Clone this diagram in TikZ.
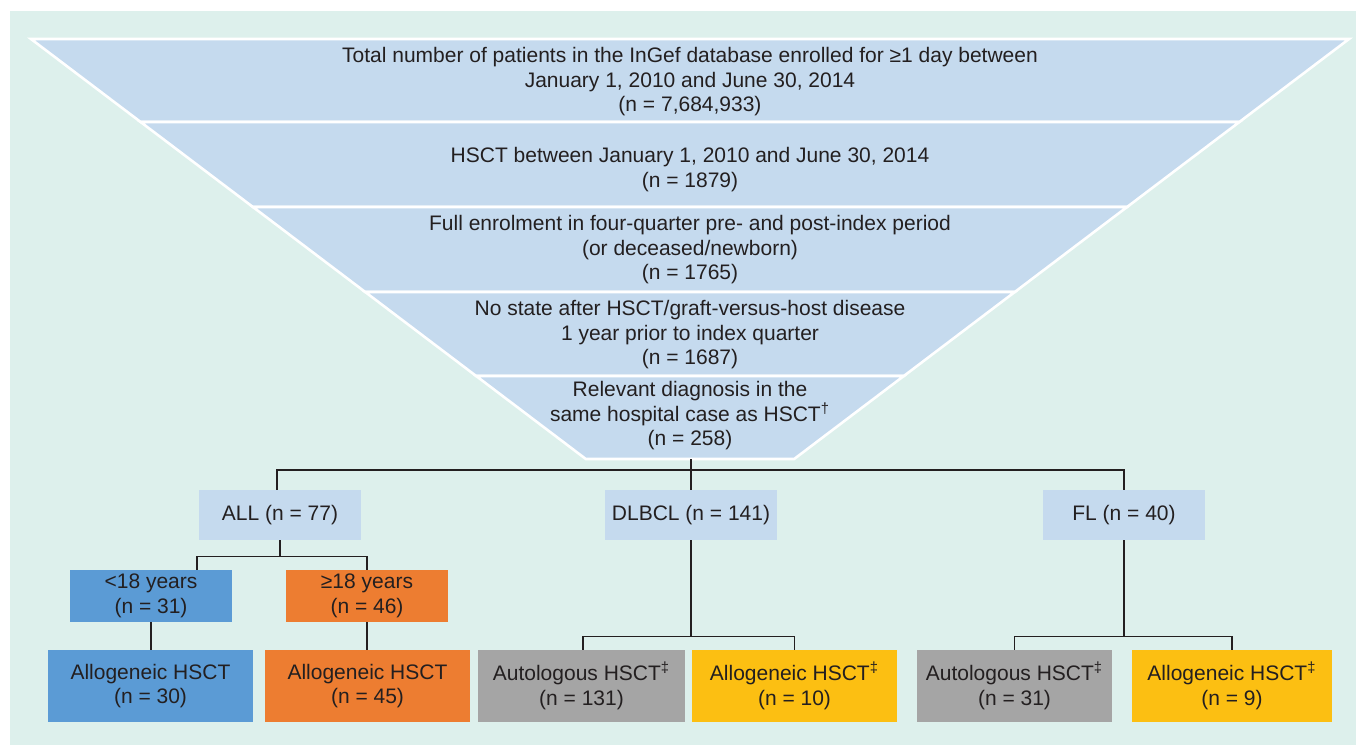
\documentclass[tikz,border=0pt]{standalone}
\usepackage{fontspec}
\setmainfont{Liberation Sans}
\definecolor{bgteal}{HTML}{DDF0EC}
\definecolor{funnelblue}{HTML}{C5DAEE}
\definecolor{boxblue}{HTML}{5B9BD5}
\definecolor{boxorange}{HTML}{ED7D31}
\definecolor{boxgray}{HTML}{A5A5A5}
\definecolor{boxyellow}{HTML}{FCBF12}
\definecolor{inkdark}{HTML}{231F20}
\begin{document}
\begin{tikzpicture}[x=0.5pt,y=-0.5pt,
        every node/.style={font=\fontsize{10.5}{12.25}\selectfont, text=inkdark, align=center, inner sep=0pt},
        layer/.style={fill=funnelblue, draw=white, line width=1.3pt, line join=miter},
        ftext/.style={yshift=-1.4pt},
        catbox/.style={fill=funnelblue, minimum height=25pt},
        agebox/.style={minimum width=81pt, minimum height=26pt},
        hsctbox/.style={minimum height=36pt},
        conn/.style={draw=inkdark, line width=0.75pt}]
        \useasboundingbox (0,0) rectangle (1356,745);
        \fill[bgteal] (10,11) rectangle (1356,745);
        % Embudo de seleccion de pacientes
        \foreach \ya/\yb in {39/122,122/207,207/292,292/376,376/459}
            \filldraw[layer] ({31+1.321*(\ya-39)},\ya) -- ({1349-1.321*(\ya-39)},\ya)
                -- ({1349-1.321*(\yb-39)},\yb) -- ({31+1.321*(\yb-39)},\yb) -- cycle;
        \node[ftext] (total) at (690,79) {Total number of patients in the InGef database enrolled for ≥1 day between\\January 1, 2010 and June 30, 2014\\(n = 7,684,933)};
        \node[ftext] (hsct) at (690,167) {HSCT between January 1, 2010 and June 30, 2014\\(n = 1879)};
        \node[ftext] (enrol) at (690,247) {Full enrolment in four-quarter pre- and post-index period\\(or deceased/newborn)\\(n = 1765)};
        \node[ftext] (nogvhd) at (690,332) {No state after HSCT/graft-versus-host disease\\1 year prior to index quarter\\(n = 1687)};
        \node[ftext] (diag) at (690,413) {Relevant diagnosis in the\\same hospital case as HSCT\textsuperscript{†}\\(n = 258)};
        \coordinate (fb) at (691,459);
        % Diagnosticos
        \node[catbox, minimum width=81pt] (all) at (280,515) {ALL (n = 77)};
        \node[catbox, minimum width=86pt] (dlbcl) at (691,515) {DLBCL (n = 141)};
        \node[catbox, minimum width=81pt] (fl) at (1124,515) {FL (n = 40)};
        \node[agebox, fill=boxblue] (young) at (151,596) {<18 years\\(n = 31)};
        \node[agebox, fill=boxorange] (adult) at (367,596) {≥18 years\\(n = 46)};
        \node[hsctbox, minimum width=102.5pt, fill=boxblue] (alloyoung) at (150.5,686) {Allogeneic HSCT\\(n = 30)};
        \node[hsctbox, minimum width=102.5pt, fill=boxorange] (alloadult) at (367.5,686) {Allogeneic HSCT\\(n = 45)};
        \node[hsctbox, minimum width=103.5pt, fill=boxgray] (autodlbcl) at (581.5,686) {Autologous HSCT\textsuperscript{‡}\\(n = 131)};
        \node[hsctbox, minimum width=102.5pt, fill=boxyellow] (allodlbcl) at (794.5,686) {Allogeneic HSCT\textsuperscript{‡}\\(n = 10)};
        \node[hsctbox, minimum width=97.5pt, fill=boxgray] (autofl) at (1014.5,686) {Autologous HSCT\textsuperscript{‡}\\(n = 31)};
        \node[hsctbox, minimum width=100pt, fill=boxyellow] (allofl) at (1232,686) {Allogeneic HSCT\textsuperscript{‡}\\(n = 9)};
        % Conectores
        \draw[conn] (fb) -- ++(0,11) coordinate (jt);
        \draw[conn] (jt) -| ([xshift=-1.5pt]all.north);
        \draw[conn] (jt) -| (fl.north);
        \draw[conn] (jt) -- (dlbcl.north);
        \draw[conn] (all.south) -- ++(0,16) coordinate (ja);
        \draw[conn] (ja) -| ([xshift=23pt]young.north);
        \draw[conn] (ja) -| (adult.north);
        \draw[conn] (young.south) -- (alloyoung.north -| young.south);
        \draw[conn] (adult.south) -- (alloadult.north -| adult.south);
        \draw[conn] (dlbcl.south) -- ++(0,96) coordinate (jd);
        \draw[conn] (jd) -| ([xshift=0.75pt]autodlbcl.north);
        \draw[conn] (jd) -| (allodlbcl.north);
        \draw[conn] (fl.south) -- ++(0,96) coordinate (jf);
        \draw[conn] (jf) -| (autofl.north);
        \draw[conn] (jf) -| (allofl.north);
    \end{tikzpicture}
\end{document}
